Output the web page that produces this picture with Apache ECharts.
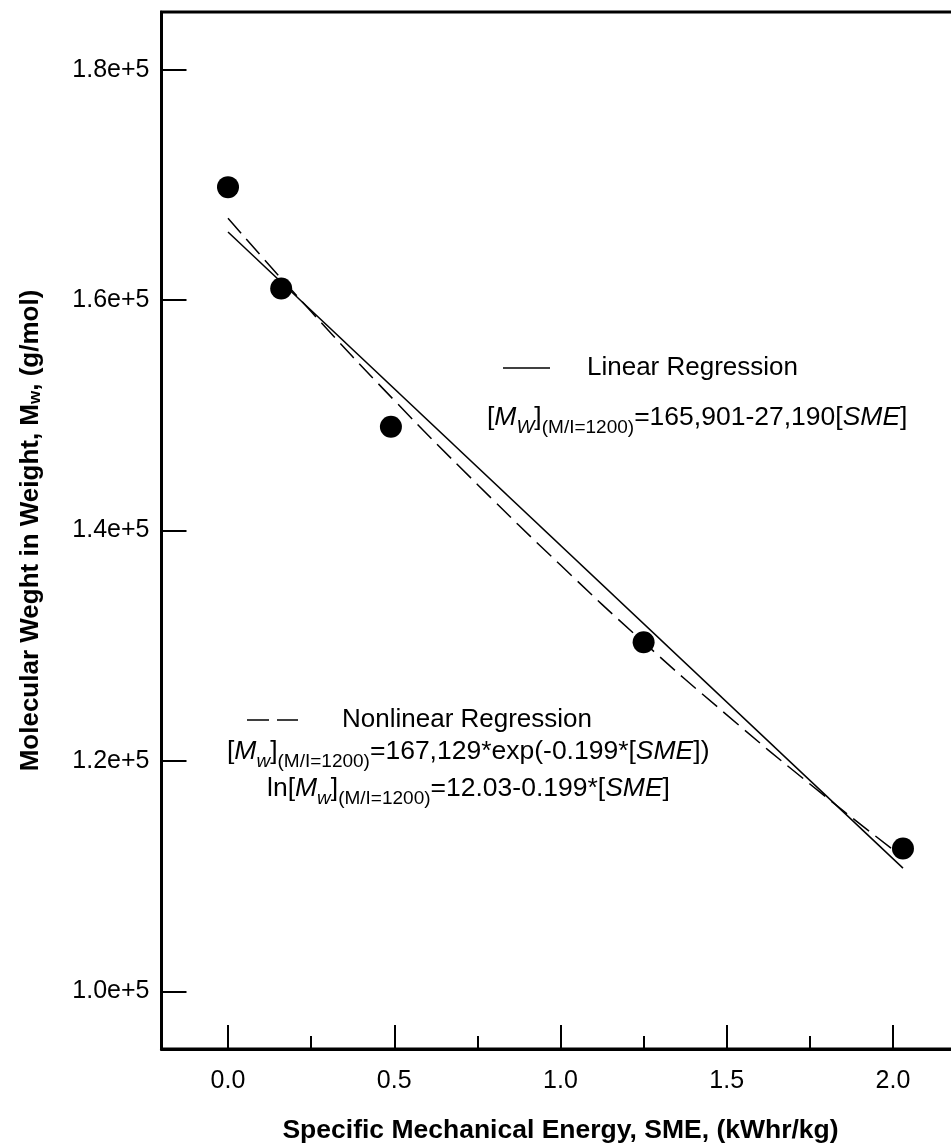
<!DOCTYPE html>
<html>
<head>
<meta charset="utf-8">
<script src="https://cdn.jsdelivr.net/npm/echarts@6/dist/echarts.min.js"></script>
<style>
  html, body { margin: 0; padding: 0; background: #fff; }
  #chart { width: 951px; height: 1143px; }
</style>
</head>
<body>
<div id="chart"></div>
<script>
// measured points (SME vs Mw)
const sme = [0.0, 0.16, 0.49, 1.25, 2.03]
const mw = [169800, 161000, 149000, 130300, 112400]

// regression lines
const linX = [0, 2.03]
const linY = [165900, 110700]
const nlX = [0, 0.25, 0.5, 0.75, 1.0, 1.25, 1.5, 1.75, 2.0]
const nlY = [167100, 159000, 151300, 144000, 137000, 130300, 124000, 118000, 112300]

// ticks
const xMajor = [0, 0.5, 1.0, 1.5, 2.0]
const xMinor = [0.25, 0.75, 1.25, 1.75]
const yTicks = [100000, 120000, 140000, 160000, 180000]

const FONT = '"Liberation Sans", Arial, Helvetica, sans-serif'
const INK = '#000'

const zip = (xs, ys) => xs.map((x, i) => [x, ys[i]])

const richEq = {
  n: { fontFamily: FONT, fontSize: 26.5, color: INK, lineHeight: 38, verticalAlign: 'middle' },
  ni: { fontFamily: FONT, fontSize: 26.5, color: INK, fontStyle: 'italic', lineHeight: 38, verticalAlign: 'middle' },
  s: { fontFamily: FONT, fontSize: 19, color: INK, lineHeight: 21, verticalAlign: 'bottom' },
  si: { fontFamily: FONT, fontSize: 19, color: INK, fontStyle: 'italic', lineHeight: 21, verticalAlign: 'bottom' },
}

function label(x, y, text) {
  return {
    type: 'text', x, y,
    style: { text, font: '26px ' + FONT, fill: INK, verticalAlign: 'middle' },
  }
}

function eq(x, y, text) {
  return {
    type: 'text', x, y,
    style: { text, rich: richEq, verticalAlign: 'middle', fill: INK, font: '26px ' + FONT },
  }
}

function seg(x1, x2, y, dash) {
  return {
    type: 'line',
    shape: { x1, y1: y, x2, y2: y },
    style: { stroke: INK, lineWidth: 1.5, lineDash: dash || null },
  }
}

const chart = echarts.init(document.getElementById('chart'), null, { renderer: 'canvas' })

chart.setOption({
  animation: false,
  backgroundColor: '#fff',
  grid: {
    left: 161.5, top: 12, width: 798, height: 1037,
    outerBoundsMode: 'none', containLabel: false,
    show: true, borderColor: INK, borderWidth: 3,
  },
  xAxis: [
    {
      type: 'value', min: -0.2, max: 2.2,
      name: 'Specific Mechanical Energy, SME, (kWhr/kg)',
      nameLocation: 'middle', nameGap: 68,
      nameTextStyle: { fontFamily: FONT, fontSize: 26.5, fontWeight: 'bold', color: INK },
      axisLine: { show: true, onZero: false, lineStyle: { color: INK, width: 3 } },
      axisTick: { show: true, inside: true, length: 24, customValues: xMajor, lineStyle: { color: INK, width: 2 } },
      axisLabel: {
        customValues: xMajor, margin: 20,
        fontFamily: FONT, fontSize: 25, color: INK,
        formatter: v => v.toFixed(1),
      },
      splitLine: { show: false },
    },
    {
      type: 'value', min: -0.2, max: 2.2, position: 'bottom', offset: 0,
      axisLine: { show: false, onZero: false },
      axisTick: { show: true, inside: true, length: 13, customValues: xMinor, lineStyle: { color: INK, width: 2 } },
      axisLabel: { show: false },
      splitLine: { show: false },
    },
  ],
  yAxis: {
    type: 'value', min: 95000, max: 185000,
    name: 'Molecular Weght in Weight, M{sub|w}, (g/mol)',
    nameLocation: 'middle', nameGap: 118, nameRotate: 90,
    nameTextStyle: {
      fontFamily: FONT, fontSize: 26, fontWeight: 'bold', color: INK,
      rich: {
        sub: { fontFamily: FONT, fontSize: 17, fontWeight: 'bold', color: INK, verticalAlign: 'bottom', lineHeight: 20 },
      },
    },
    axisLine: { show: true, onZero: false, lineStyle: { color: INK, width: 2.5 } },
    axisTick: { show: true, inside: true, length: 25, customValues: yTicks, lineStyle: { color: INK, width: 2 } },
    axisLabel: {
      customValues: yTicks, margin: 12,
      fontFamily: FONT, fontSize: 25, color: INK,
      formatter: v => (v / 100000).toFixed(1) + 'e+5',
    },
    splitLine: { show: false },
  },
  series: [
    {
      name: 'Linear Regression', type: 'line', data: zip(linX, linY),
      symbol: 'none', lineStyle: { color: INK, width: 1.5 }, z: 2,
    },
    {
      name: 'Nonlinear Regression', type: 'line', data: zip(nlX, nlY), smooth: true,
      symbol: 'none', lineStyle: { color: INK, width: 1.5, type: [20, 8] }, z: 2,
    },
    {
      name: 'Mw', type: 'scatter', data: zip(sme, mw),
      symbol: 'circle', symbolSize: 22, itemStyle: { color: INK, opacity: 1 }, z: 3,
    },
  ],
  graphic: [
    seg(503, 550, 368),
    label(587, 368, 'Linear Regression'),
    eq(487, 418, '{n|[}{ni|M}{si|W}{n|]}{s|(M/I=1200)}{n|=165,901-27,190[}{ni|SME}{n|]}'),
    seg(247, 298, 720, [22, 8]),
    label(342, 720, 'Nonlinear Regression'),
    eq(227, 752, '{n|[}{ni|M}{si|w}{n|]}{s|(M/I=1200)}{n|=167,129*exp(-0.199*[}{ni|SME}{n|])}'),
    eq(267, 789, '{n|ln[}{ni|M}{si|w}{n|]}{s|(M/I=1200)}{n|=12.03-0.199*[}{ni|SME}{n|]}'),
  ],
})
</script>
</body>
</html>
